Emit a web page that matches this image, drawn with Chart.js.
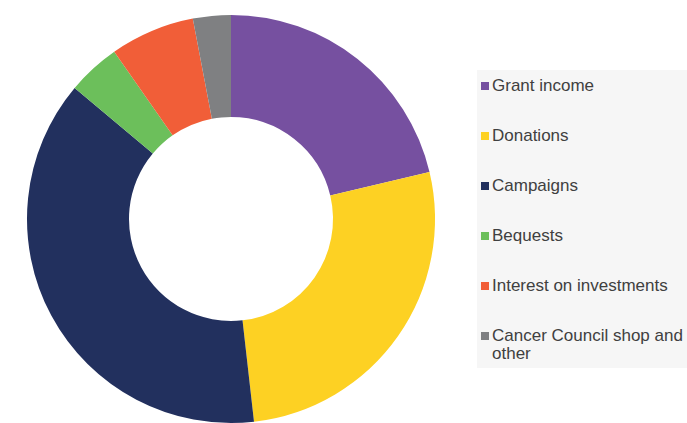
<!DOCTYPE html>
<html>
<head>
<meta charset="utf-8">
<script src="https://cdn.jsdelivr.net/npm/chart.js@4/dist/chart.umd.min.js"></script>
<style>
    body { margin: 0; width: 687px; height: 423px; overflow: hidden; background: #fff; position: relative; font-family: "Liberation Sans", Arial, sans-serif; }
    #grafico { position: absolute; left: 0; top: 0; width: 462px; height: 438px; }
    #legenda { position: absolute; left: 477px; top: 70px; width: 215px; height: 298px; background: #f6f6f6; box-sizing: border-box; padding: 7px 0 0 4px; }
    .item { display: flex; align-items: flex-start; margin-bottom: 32px; font-size: 17px; line-height: 18px; color: #404040; }
    .quadrado { width: 8px; height: 8px; margin: 5px 3px 0 0; flex: none; }
    .texto { width: 195px; }
</style>
</head>
<body>
<div id="grafico"><canvas id="rendaChart"></canvas></div>
<div id="legenda"></div>
<script>
const categorias = ['Grant income', 'Donations', 'Campaigns', 'Bequests', 'Interest on investments', 'Cancer Council shop and other'];
const percentuais = [21.3, 26.9, 37.9, 4.2, 6.7, 3.0];
const cores = ['#7650a0', '#fdd123', '#22305e', '#6cbf5b', '#f15e38', '#7f8082'];

const ctx = document.getElementById('rendaChart').getContext('2d');
const rendaChart = new Chart(ctx, {
    type: 'doughnut',
    data: {
        labels: categorias,
        datasets: [{
            data: percentuais,
            backgroundColor: cores,
            borderWidth: 0
        }]
    },
    options: {
        responsive: true,
        maintainAspectRatio: false,
        animation: false,
        cutout: '50%',
        layout: { padding: 15 },
        plugins: {
            legend: { display: false },
            tooltip: { enabled: false }
        }
    }
});

// legenda em HTML, montada a partir dos mesmos arrays
const legenda = document.getElementById('legenda');
categorias.forEach(function (nome, i) {
    const item = document.createElement('div');
    item.className = 'item';
    const quadrado = document.createElement('span');
    quadrado.className = 'quadrado';
    quadrado.style.background = cores[i];
    const texto = document.createElement('span');
    texto.className = 'texto';
    texto.textContent = nome;
    item.appendChild(quadrado);
    item.appendChild(texto);
    legenda.appendChild(item);
});
</script>
</body>
</html>
